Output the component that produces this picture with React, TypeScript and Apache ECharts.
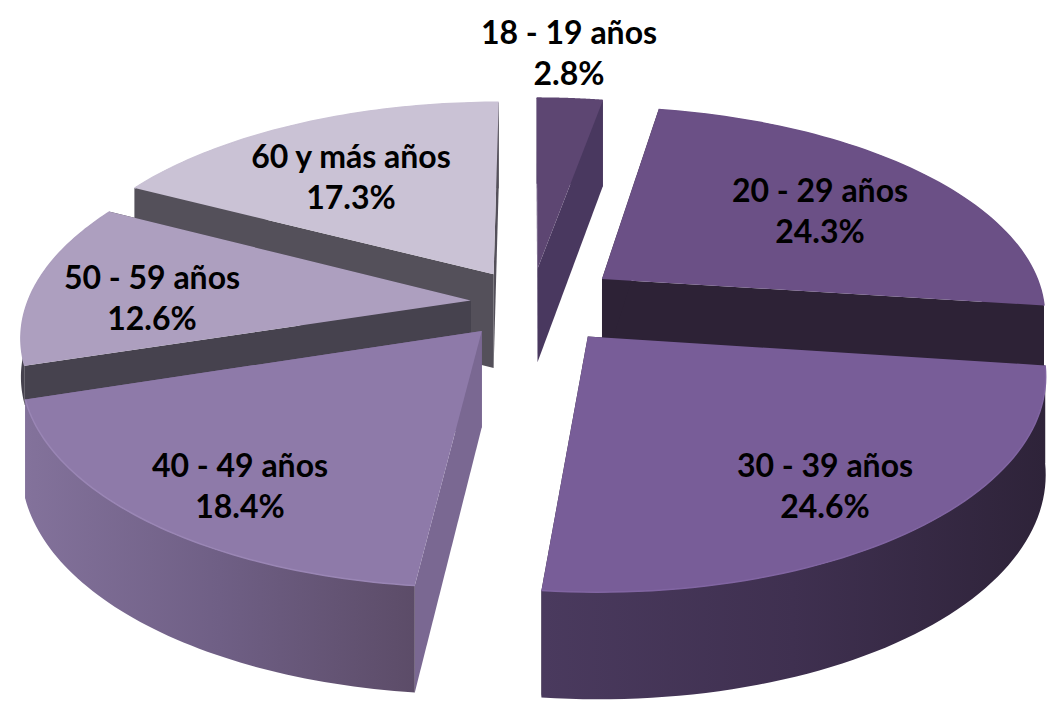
import React, { useEffect, useRef } from "react";
import * as echarts from "echarts";

const categories = ["18 - 19 años", "20 - 29 años", "30 - 39 años", "40 - 49 años", "50 - 59 años", "60 y más años"];
const shares = [2.8, 24.3, 24.6, 18.4, 12.6, 17.3];

// Look of each slice
const explode = [0.17, 0.2, 0.2, 0.17, 0.135, 0.165];
const radiusScale = [1, 0.99, 0.98, 0.99, 0.99, 1];
const outerDepth = [1, 1, 1, 1, 0.4, 1];
const drawOrder = [0, 5, 1, 4, 3, 2];
const topColors = ["#5d4672", "#6b5086", "#785d98", "#8e7aa9", "#ad9fbf", "#cac2d5"];
const rimColors = ["#5d4672", "#6b5086", "#8165a2", "#9a86b5", "#ad9fbf", "#cac2d5"];
const startWall = ["#49385f", "#2d2236", "#2d2236", "#7a6892", "#46424e", "#54505a"];
const endWall = ["#49385f", "#2d2236", "#2d2236", "#7a6892", "#46424e", "#54505a"];
const outerWall: string[][] = [
  ["#49385f", "#49385f"],
  ["#2d2236", "#2d2236"],
  ["#4a3a5e", "#3f3050", "#2e2339"],
  ["#83729b", "#6f5f85", "#5c4c68"],
  ["#46424e", "#46424e"],
  ["#54505a", "#54505a"],
];
const labelCenters = [
  [569, 52],
  [820, 210],
  [825, 485],
  [240, 485],
  [152, 297],
  [351, 176],
];

const CX = 531;
const CY = 303;
const R = 448;
const A = 0.16;
const H = 1300;
const T = 95;
const STEPS = 60;

function project(X: number, Y: number, depth: number): [number, number] {
  const s = 1 / (1 + A * Y);
  return [CX + R * X * s, CY + H * (s - 1) + depth * T * Math.pow(s, 0.6)];
}

function renderItem(params: any, api: any) {
  const i = params.dataIndex;
  const total = shares.reduce((a, b) => a + b, 0);
  const before = shares.slice(0, i).reduce((a, b) => a + b, 0);
  const value = api.value(0) as number;
  const a0 = (before / total) * Math.PI * 2;
  const a1 = ((before + value) / total) * Math.PI * 2;
  const mid = (a0 + a1) / 2;
  const ox = Math.sin(mid) * explode[i];
  const oy = Math.cos(mid) * explode[i];
  const rs = radiusScale[i];
  const arc = (depth: number) => {
    const pts: [number, number][] = [];
    for (let k = 0; k <= STEPS; k++) {
      const t = a0 + ((a1 - a0) * k) / STEPS;
      pts.push(project(ox + rs * Math.sin(t), oy + rs * Math.cos(t), depth));
    }
    return pts;
  };
  const topArc = arc(0);
  const outerArc = arc(outerDepth[i]);
  const apexTop = project(ox, oy, 0);
  const apexLow = project(ox, oy, 1);
  const base = drawOrder.indexOf(i) * 10 + 1;
  const shape = (points: [number, number][]) => ({ points });
  const stops = outerWall[i].map((color, k, arr) => ({ offset: k / (arr.length - 1), color }));
  const children: any[] = [
    {
      type: "polygon",
      z2: base,
      shape: shape([apexTop, topArc[topArc.length - 1], outerArc[outerArc.length - 1], apexLow]),
      style: { fill: endWall[i] },
    },
    {
      type: "polygon",
      z2: base + 1,
      shape: shape([apexTop, topArc[0], outerArc[0], apexLow]),
      style: { fill: startWall[i] },
    },
    {
      type: "polygon",
      z2: base + 2,
      shape: shape([...topArc, ...outerArc.slice().reverse()]),
      style: { fill: new echarts.graphic.LinearGradient(0, 0, 1, 0, stops) },
    },
    {
      type: "polygon",
      z2: base + 3,
      shape: shape([apexTop, ...topArc]),
      style: { fill: topColors[i] },
    },
    {
      type: "polyline",
      z2: base + 4,
      shape: { points: topArc },
      style: { fill: "none", stroke: rimColors[i], lineWidth: 1.5 },
    },
    {
      type: "text",
      z2: 200,
      x: labelCenters[i][0],
      y: labelCenters[i][1],
      style: {
        text: `${categories[i]}\n${value.toFixed(1)}%`,
        fontFamily: "Lato",
        fontWeight: "bold",
        fontSize: 32,
        lineHeight: 41,
        fill: "#000000",
        align: "center",
        verticalAlign: "middle",
      },
    },
  ];
  return { type: "group", children };
}

export default function App() {
  const ref = useRef<HTMLDivElement>(null);
  useEffect(() => {
    const chart = echarts.init(ref.current!, undefined, { renderer: "svg" });
    chart.setOption({
      animation: false,
      backgroundColor: "#ffffff",
      series: [
        {
          type: "custom",
          coordinateSystem: "none",
          silent: true,
          clip: false,
          renderItem,
          data: shares.map((v, i) => ({ name: categories[i], value: [v] })),
        },
      ],
    });
    return () => chart.dispose();
  }, []);
  return <div ref={ref} style={{ position: "fixed", left: 0, top: 0, width: 1057, height: 707 }} />;
}
